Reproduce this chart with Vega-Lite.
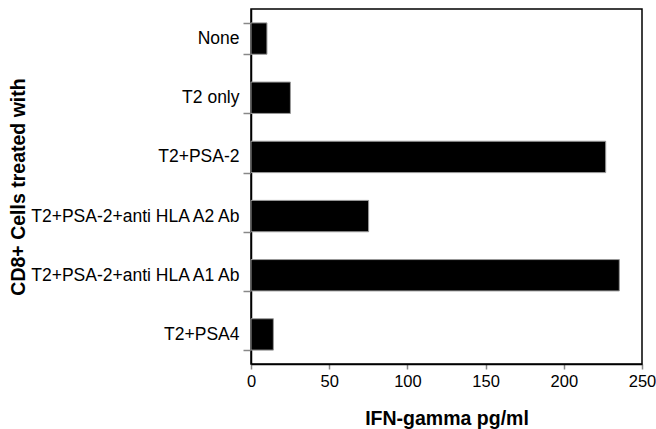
{
  "$schema": "https://vega.github.io/schema/vega-lite/v6.json",
  "width": 391,
  "height": 355,
  "autosize": {"type": "none"},
  "padding": {"left": 251, "top": 9, "right": 14, "bottom": 65},
  "background": "white",
  "config": {
    "view": {"stroke": "black", "strokeWidth": 1.5},
    "font": "Liberation Sans"
  },
  "data": {
    "values": [
      {"treatment": "None", "ifn": 10.2},
      {"treatment": "T2 only", "ifn": 25.2},
      {"treatment": "T2+PSA-2", "ifn": 226.8},
      {"treatment": "T2+PSA-2+anti HLA A2 Ab", "ifn": 75.2},
      {"treatment": "T2+PSA-2+anti HLA A1 Ab", "ifn": 235.5},
      {"treatment": "T2+PSA4", "ifn": 14.3}
    ]
  },
  "mark": {"type": "bar", "color": "black", "stroke": "#999999", "strokeWidth": 1},
  "encoding": {
    "y": {
      "field": "treatment",
      "type": "nominal",
      "sort": null,
      "scale": {"paddingInner": 0.47, "paddingOuter": 0.235},
      "axis": {
        "title": "CD8+ Cells treated with",
        "titleFont": "Liberation Sans",
        "titleFontSize": 19.5,
        "titleFontWeight": "bold",
        "titleColor": "black",
        "titleAngle": 270,
        "titleAnchor": "middle",
        "titleBaseline": "middle",
        "titleAlign": "center",
        "titleX": -233,
        "titleY": 177.5,
        "labelFont": "Liberation Sans",
        "labelFontSize": 17.5,
        "labelColor": "black",
        "labelPadding": 4,
        "labelLimit": 300,
        "tickBand": "extent",
        "tickSize": 8,
        "tickColor": "#888888",
        "tickWidth": 1.5,
        "domainColor": "black",
        "domainWidth": 1.5
      }
    },
    "x": {
      "field": "ifn",
      "type": "quantitative",
      "scale": {"domain": [0, 250], "nice": false},
      "axis": {
        "title": "IFN-gamma pg/ml",
        "values": [0, 50, 100, 150, 200, 250],
        "grid": false,
        "titleFont": "Liberation Sans",
        "titleFontSize": 19.5,
        "titleFontWeight": "bold",
        "titleColor": "black",
        "titlePadding": 20,
        "labelFont": "Liberation Sans",
        "labelFontSize": 16.5,
        "labelColor": "black",
        "labelPadding": 4,
        "labelFlush": false,
        "tickSize": 5,
        "tickColor": "#888888",
        "tickWidth": 1.5,
        "domainColor": "black",
        "domainWidth": 1.5
      }
    }
  }
}
